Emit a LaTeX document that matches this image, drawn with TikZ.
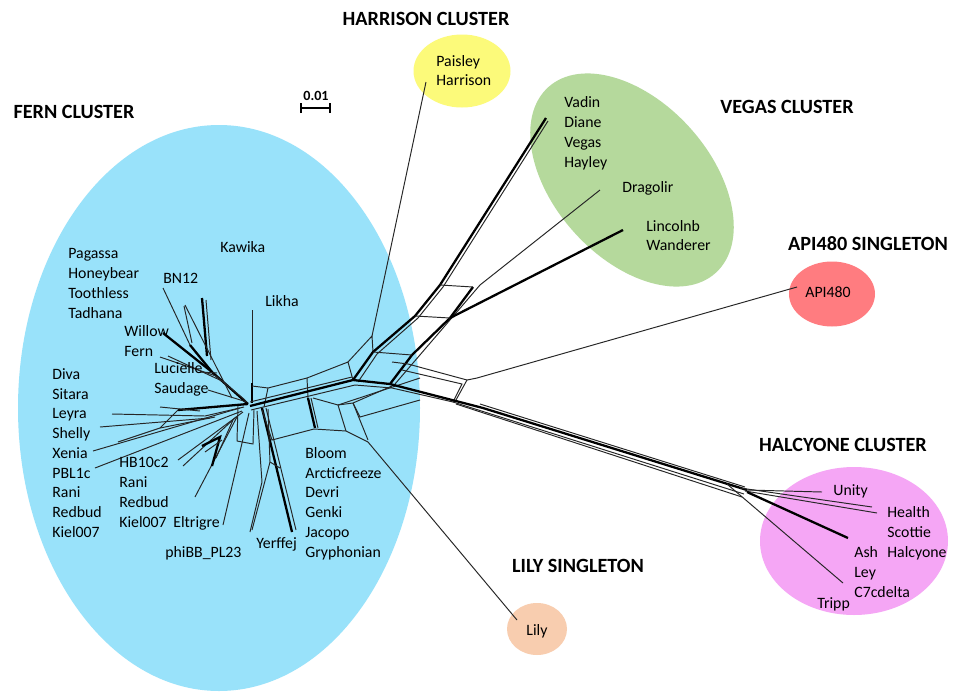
\documentclass[tikz,border=0pt]{standalone}
\usepackage{fontspec}
\setmainfont{Carlito}
\usetikzlibrary{positioning}

\definecolor{fernblue}{RGB}{153,226,250}
\definecolor{harrisonyellow}{RGB}{252,250,122}
\definecolor{vegasgreen}{RGB}{181,217,156}
\definecolor{apired}{RGB}{255,124,128}
\definecolor{halcyonepink}{RGB}{245,166,245}
\definecolor{lilypeach}{RGB}{248,205,175}

\tikzset{
  phage/.style={anchor=west, inner sep=0pt, font=\fontsize{9}{11}\selectfont,
    text height=1.6ex, text depth=0.35ex},
  cluster/.style={inner sep=0pt, font=\fontsize{11.5}{14}\selectfont\bfseries},
  split/.style={line width=0.55pt, black!85},
  splitthick/.style={line width=1.3pt, black},
}

\begin{document}
\begin{tikzpicture}[x=0.02cm, y=-0.02cm]
    \useasboundingbox (0,0) rectangle (968,694);
    \fill[white] (0,0) rectangle (968,694);

    % cluster ellipses
    \fill[fernblue] (219,408) ellipse (201 and 283);
    \fill[harrisonyellow] (462,71) ellipse (48.5 and 36.5);
    \fill[vegasgreen, rotate around={-48:(632,180)}] (632,180) ellipse (125 and 78);
    \fill[apired] (832,294) ellipse (43 and 32.5);
    \fill[halcyonepink] (854,541) ellipse (94 and 74);
    \fill[lilypeach] (537,629) ellipse (30 and 26);

    % cluster titles
    \node[cluster] (ferntitle) at (74,112) {FERN CLUSTER};
    \node[cluster] (harrisontitle) at (426,19) {HARRISON CLUSTER};
    \node[cluster] (vegastitle) at (787,107) {VEGAS CLUSTER};
    \node[cluster] (apititle) at (868,244) {API480 SINGLETON};
    \node[cluster] (halcyonetitle) at (843,445) {HALCYONE CLUSTER};
    \node[cluster] (lilytitle) at (578,566) {LILY SINGLETON};

    % scale bar
    \coordinate (barl) at (301,108);
    \coordinate (barr) at (330,108);
    \draw[line width=0.7pt] (barl) -- (barr);
    \draw[line width=0.7pt] ([yshift=-0.1cm]barl) -- ([yshift=0.1cm]barl);
    \draw[line width=0.7pt] ([yshift=-0.1cm]barr) -- ([yshift=0.1cm]barr);
    \node[inner sep=0pt, font=\fontsize{8}{9}\selectfont\bfseries] (barlabel) at (316,96) {0.01};

    % hubs of the network
    \coordinate (fhub) at (248,404);
    \coordinate (vhub) at (353,380);
    \coordinate (hhub) at (747,490);

    % fern cluster, upper left bundle
    \draw[splitthick] (fhub) -- (212,372) -- (190,345);
    \draw[split] (190,345) -- (163,288);
    \draw[split] (192,343) -- (184,306);
    \draw[splitthick] (207,356) -- (202,298);
    \draw[split] (211,360) -- (206,300);
    \draw[splitthick] (163,333) -- (212,372);
    \draw[split] (160,357) -- (216,376) -- (245,400);
    \draw[split] (168,356) -- (222,381);
    \draw[split] (200,372) -- (217,373);
    \draw[split] (208,390) -- (247,402);
    \draw[split] (185,305) -- (232,398);

    % fern cluster, left bundle
    \draw[splitthick] (fhub) -- (178,410);
    \draw[split] (160,407) -- (200,411);
    \draw[split] (112,414) -- (205,416) -- (244,407);
    \draw[split] (100,427) -- (210,418);
    \draw[split] (118,442) -- (160,428) -- (178,410);
    \draw[split] (160,428) -- (215,417);
    \draw[split] (93,451) -- (240,408);
    \draw[split] (95,468) -- (242,411);

    % fern cluster, lower left
    \draw[split] (178,460) -- (243,412);
    \draw[split] (183,466) -- (236,417);
    \draw[split] (195,497) -- (238,415);
    \draw[splitthick] (202,446) -- (220,437) -- (212,466);
    \draw[split] (205,452) -- (222,440);
    \draw[split] (216,458) -- (233,420);
    \draw[split] (223,525) -- (249,413);
    \draw[split] (250,532) -- (262,482) -- (257,411);
    \draw[split] (238,406) -- (237,441) -- (253,444) -- (254,410);
    \draw[split] (252,310) -- (252,385);
    \draw[splitthick] (252,383) -- (252,403);
    \draw[splitthick] (262,408) -- (292,532);
    \draw[split] (266,408) -- (296,530);
    \draw[split] (252,530) -- (270,462) -- (268,409);
    \draw[split] (270,462) -- (280,468);

    % trunk between the hubs
    \draw[split] (252,386) -- (268,388) -- (307,378) -- (348,362) -- (vhub);
    \draw[split] (268,388) -- (264,407);
    \draw[split] (307,378) -- (308,398);
    \draw[splitthick] (250,406) -- (vhub);
    \draw[split] (250,402) -- (352,377);
    \draw[split] (251,410) -- (355,385);
    \draw[split] (262,410) -- (272,440) -- (314,429) -- (346,431) -- (368,442);
    \draw[splitthick] (308,398) -- (315,428);
    \draw[split] (311,398) -- (318,428);
    \draw[split] (338,405) -- (346,431);
    \draw[split] (353,403) -- (368,440);
    \draw[split] (313,398) -- (338,405) -- (353,403) -- (392,386);
    \draw[split] (338,405) -- (420,378);
    \draw[split] (353,403) -- (360,417) -- (420,400);

    % lily
    \draw[split] (368,442) -- (517,620);

    % harrison and vegas
    \draw[split] (348,362) -- (372,336) -- (373,352);
    \draw[split] (372,336) -- (426,82);
    \draw[splitthick] (vhub) -- (373,352) -- (415,316) -- (440,285) -- (546,118);
    \draw[split] (358,382) -- (377,354) -- (418,318) -- (443,287) -- (548,121);
    \draw[splitthick] (390,384) -- (412,355) -- (450,318) -- (473,287);
    \draw[split] (395,384) -- (480,285) -- (600,190);
    \draw[splitthick] (450,318) -- (623,230);
    \draw[split] (373,352) -- (412,355);
    \draw[split] (415,316) -- (450,318);
    \draw[split] (440,285) -- (473,287);

    % api480
    \draw[split] (392,362) -- (408,364) -- (467,380) -- (477,378);
    \draw[split] (402,370) -- (462,384) -- (453,402);
    \draw[split] (467,380) -- (456,400);
    \draw[split] (477,378) -- (797,287);

    % halcyone trunk and leaves
    \draw[splitthick] (vhub) -- (390,384) -- (483,408) -- (hhub);
    \draw[split] (355,385) -- (392,388) -- (453,402) -- (744,494);
    \draw[split] (480,404) -- (745,487);
    \draw[split] (456,404) -- (742,497);
    \draw[split] (hhub) -- (822,492);
    \draw[split] (740,488) -- (872,507);
    \draw[split] (745,491) -- (877,513);
    \draw[splitthick] (747,492) -- (848,538);
    \draw[split] (727,484) -- (843,583);

    % fern cluster labels
    \node[phage] (kawika) at (220,247) {Kawika};
    \foreach \name [count=\i from 0] in {Pagassa,Honeybear,Toothless,Tadhana}
        \node[phage] (pag\i) at (68,253+20*\i) {\name};
    \node[phage] (bn12) at (163,278) {BN12};
    \node[phage] (likha) at (265,301) {Likha};
    \node[phage] (willow) at (124,331) {Willow};
    \node[phage] (fern) at (124,351) {Fern};
    \node[phage] (lucielle) at (154,368) {Lucielle};
    \node[phage] (saudage) at (154,388) {Saudage};
    \foreach \name [count=\i from 0] in {Diva,Sitara,Leyra,Shelly,Xenia,PBL1c,Rani,Redbud,Kiel007}
        \node[phage] (diva\i) at (52,374+19.75*\i) {\name};
    \foreach \name [count=\i from 0] in {HB10c2,Rani,Redbud,Kiel007}
        \node[phage] (hb\i) at (119,462+20*\i) {\name};
    \node[phage] (eltrigre) at (173,522) {Eltrigre};
    \node[phage] (phibb) at (165,552) {phiBB\_PL23};
    \node[phage] (yerffej) at (256,543) {Yerffej};
    \foreach \name [count=\i from 0] in {Bloom,Arcticfreeze,Devri,Genki,Jacopo,Gryphonian}
        \node[phage] (bloom\i) at (305,453+19.8*\i) {\name};

    % harrison and vegas labels
    \node[phage] (paisley) at (436,61) {Paisley};
    \node[phage] (harrison) at (436,80) {Harrison};
    \foreach \name [count=\i from 0] in {Vadin,Diane,Vegas,Hayley}
        \node[phage] (vadin\i) at (564,102+20*\i) {\name};
    \node[phage] (dragolir) at (622,187) {Dragolir};
    \node[phage] (lincolnb) at (646,226) {Lincolnb};
    \node[phage] (wanderer) at (646,245) {Wanderer};

    % singletons and halcyone labels
    \node[phage] (api) at (805,292) {API480};
    \node[phage, anchor=center] (lily) at (537,630) {Lily};
    \node[phage] (unity) at (833,490) {Unity};
    \foreach \name [count=\i from 0] in {Health,Scottie,Halcyone}
        \node[phage] (health\i) at (887,512+20*\i) {\name};
    \foreach \name [count=\i from 0] in {Ash,Ley,C7cdelta}
        \node[phage] (ash\i) at (854,552+20*\i) {\name};
    \node[phage] (tripp) at (817,603) {Tripp};
\end{tikzpicture}
\end{document}
